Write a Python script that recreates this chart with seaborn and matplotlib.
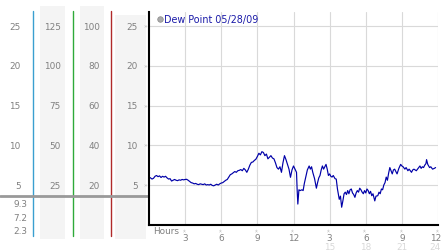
import numpy as np
import pandas as pd
import seaborn as sns
import matplotlib.pyplot as plt
from matplotlib.transforms import blended_transform_factory

# ---------------- data ----------------
hours = [0.0, 0.125, 0.25, 0.375, 0.5, 0.625, 0.75, 0.875, 1.0, 1.125, 1.25, 1.375,
         1.5, 1.625, 1.75, 1.875, 2.0, 2.125, 2.25, 2.375, 2.5, 2.625, 2.75, 2.875,
         3.0, 3.125, 3.25, 3.375, 3.5, 3.625, 3.75, 3.875, 4.0, 4.125, 4.25, 4.375,
         4.5, 4.625, 4.75, 4.875, 5.0, 5.125, 5.25, 5.375, 5.5, 5.625, 5.75, 5.875,
         6.0, 6.125, 6.25, 6.375, 6.5, 6.625, 6.75, 6.875, 7.0, 7.125, 7.25, 7.375,
         7.5, 7.625, 7.75, 7.875, 8.0, 8.125, 8.25, 8.375, 8.5, 8.625, 8.75, 8.875,
         9.0, 9.125, 9.25, 9.375, 9.5, 9.625, 9.75, 9.875, 10.0, 10.125, 10.25, 10.375,
         10.5, 10.625, 10.75, 10.875, 11.0, 11.125, 11.25, 11.375, 11.5, 11.625, 11.75, 11.875,
         12.0, 12.125, 12.25, 12.3, 12.36, 12.45, 12.55, 12.7, 12.8, 12.9, 13.05, 13.15,
         13.3, 13.4, 13.5, 13.6, 13.75, 13.9, 14.0, 14.1, 14.2, 14.3, 14.4, 14.5,
         14.6, 14.7, 14.8, 14.9, 15.0, 15.1, 15.2, 15.3, 15.45, 15.55, 15.65, 15.8,
         15.9, 16.0, 16.1, 16.2, 16.3, 16.4, 16.5, 16.6, 16.7, 16.8, 16.9, 17.0,
         17.1, 17.2, 17.3, 17.4, 17.5, 17.6, 17.7, 17.8, 17.9, 18.0, 18.1, 18.2,
         18.3, 18.4, 18.5, 18.6, 18.75, 18.85, 19.0, 19.1, 19.2, 19.3, 19.4, 19.5,
         19.6, 19.7, 19.8, 19.9, 20.0, 20.1, 20.2, 20.3, 20.4, 20.5, 20.6, 20.75,
         20.9, 21.0, 21.1, 21.25, 21.35, 21.5, 21.6, 21.7, 21.8, 21.9, 22.0, 22.1,
         22.2, 22.3, 22.4, 22.5, 22.6, 22.7, 22.8, 22.9, 23.0, 23.05, 23.15, 23.3,
         23.4, 23.55, 23.7, 23.8]
dew_point = [6.0, 5.9, 5.75, 5.85, 6.1, 6.2, 6.05, 6.15, 5.95, 6.1, 6.0, 6.1,
             5.9, 5.75, 5.8, 5.5, 5.6, 5.7, 5.6, 5.55, 5.65, 5.6, 5.7, 5.65,
             5.7, 5.72, 5.6, 5.45, 5.3, 5.25, 5.15, 5.2, 5.1, 5.05, 5.15, 5.1,
             5.05, 5.15, 5.0, 5.05, 5.0, 5.1, 4.95, 4.9, 5.0, 5.1, 5.0, 5.15,
             5.25, 5.3, 5.45, 5.6, 5.7, 6.0, 6.3, 6.4, 6.55, 6.7, 6.6, 6.8,
             6.85, 6.95, 6.8, 7.1, 6.9, 6.6, 7.0, 7.5, 7.85, 7.9, 8.1, 8.25,
             8.6, 9.0, 8.8, 9.2, 9.1, 8.7, 8.9, 8.3, 8.5, 8.7, 8.4, 8.3,
             7.8, 7.2, 7.0, 7.3, 6.6, 7.8, 8.7, 8.2, 7.6, 7.0, 5.97, 6.9,
             7.4, 7.0, 6.6, 4.5, 2.6, 4.4, 4.3, 4.4, 4.3, 5.2, 6.2, 6.9,
             7.4, 7.0, 7.3, 6.6, 5.8, 4.6, 5.3, 5.9, 6.2, 6.9, 7.4, 7.0,
             7.3, 7.6, 7.0, 6.2, 6.4, 6.1, 6.0, 6.2, 5.8, 5.75, 4.5, 3.2,
             3.6, 2.2, 3.0, 3.9, 4.1, 3.8, 4.3, 3.9, 4.4, 4.5, 4.0, 3.8,
             3.45, 4.0, 4.3, 4.1, 4.6, 4.4, 4.1, 3.9, 4.3, 4.0, 4.5, 4.3,
             3.9, 4.2, 3.65, 3.9, 3.0, 3.6, 3.65, 4.1, 3.9, 4.5, 4.4, 5.0,
             5.3, 6.0, 5.6, 6.5, 7.2, 6.8, 6.4, 6.9, 7.0, 6.7, 6.4, 7.1,
             7.6, 7.4, 7.3, 7.0, 7.2, 6.8, 7.0, 6.8, 6.6, 6.9, 7.0, 6.9,
             6.8, 7.0, 7.2, 7.4, 7.1, 7.3, 7.2, 7.5, 7.7, 8.2, 7.6, 7.2,
             7.3, 7.0, 7.1, 7.2]
series_label = "Dew Point 05/28/09"

x_ticks = [3, 6, 9, 12, 15, 18, 21, 24]
x_tick_labels = ["3", "6", "9", "12", "3", "6", "9", "12"]
x_second_row = {15: "15", 18: "18", 21: "21", 24: "24"}
y_ticks = [5, 10, 15, 20, 25]
col1_labels = ["5", "10", "15", "20", "25"]
col2_labels = ["25", "50", "75", "100", "125"]
col3_labels = ["20", "40", "60", "80", "100"]
col4_labels = ["5", "10", "15", "20", "25"]
col1_extra = ["9.3", "7.2", "2.3"]

df = pd.DataFrame({"hour": hours, "dew": dew_point})

# ---------------- figure ----------------
sns.set_style("white")
plt.rcParams['font.family'] = ['DejaVu Sans']
W, H = 442, 253
fig = plt.figure(figsize=(W / 100, H / 100), dpi=100)

ov = fig.add_axes([0, 0, 1, 1], zorder=0)
ov.set_xlim(0, W)
ov.set_ylim(H, 0)
ov.axis("off")

y0_px, ytop_px = 225.7, 13.0
ax = fig.add_axes([149 / W, (H - y0_px) / H, 289 / W, (y0_px - ytop_px) / H], zorder=1)
ymax = 26.8
ax.set_xlim(0, 24)
ax.set_ylim(0, ymax)

sns.lineplot(data=df, x="hour", y="dew", ax=ax, color="#0000a8", linewidth=0.85, legend=False)

ax.set_xticks(x_ticks)
ax.set_yticks(y_ticks)
ax.grid(True, color="#d9d9d9", linewidth=0.8)
ax.set_axisbelow(True)
ax.tick_params(length=0, labelbottom=False, labelleft=False)
ax.set_xlabel("")
ax.set_ylabel("")
for s in ["top", "right"]:
    ax.spines[s].set_visible(False)
ax.spines["left"].set_color("black")
ax.spines["left"].set_linewidth(1.5)
ax.spines["bottom"].set_color("black")
ax.spines["bottom"].set_linewidth(1.5)

# legend-like title
ax.plot([0.038], [0.967], marker="o", markersize=4, color="#aaaaaa",
        markeredgecolor="#888888", markeredgewidth=0.5, transform=ax.transAxes, clip_on=False)
ax.text(0.051, 0.967, series_label, transform=ax.transAxes, color="#1a1aa8",
        fontsize=6.9, va="center", ha="left")

# ---------------- left panel ----------------
tr = blended_transform_factory(ov.transData, ax.transData)
gray_bg = "#f4f4f4"
for x0, x1, ytop in [(40, 65, 7), (80, 104, 7), (115, 146, 16)]:
    ov.fill_between([x0, x1], [ytop, ytop], [240, 240], color=gray_bg, lw=0)

for xv, col in [(33, "#3a9fd0"), (72.7, "#2faa3a"), (111.3, "#b02a2a")]:
    ov.plot([xv, xv], [12, 237], color=col, lw=1.0)

ov.plot([0, 149], [196.7, 196.7], color="#999999", lw=2)

txt_col = "#808080"
fs = 6.4
for yv, l1, l2, l3, l4 in zip(y_ticks, col1_labels, col2_labels, col3_labels, col4_labels):
    ov.text(20.5, yv, l1, transform=tr, ha="right", va="center", fontsize=fs, color=txt_col)
    ov.text(60.5, yv, l2, transform=tr, ha="right", va="center", fontsize=fs, color=txt_col)
    ov.text(99.5, yv, l3, transform=tr, ha="right", va="center", fontsize=fs, color=txt_col)
    ov.text(137.5, yv, l4, transform=tr, ha="right", va="center", fontsize=fs, color=txt_col)
    ov.text(145.5, yv, "»", transform=tr, ha="center", va="center", fontsize=4.5, color="#b0b0b0")

for yp, lab in zip([205, 219, 232], col1_extra):
    ov.text(27.5, yp, lab, ha="right", va="center", fontsize=fs, color=txt_col)

# ---------------- bottom labels ----------------
trx = blended_transform_factory(ax.transData, ov.transData)
ov.text(153, 231.5, "Hours", ha="left", va="center", fontsize=fs, color=txt_col)
for xv, lab in zip(x_ticks, x_tick_labels):
    ov.text(xv, 230, "»", transform=trx, ha="center", va="center", fontsize=4.5,
            color="#b0b0b0", rotation=90)
    if xv == x_ticks[-1]:
        ov.text(441, 238.5, lab, ha="right", va="center", fontsize=fs, color=txt_col)
    else:
        ov.text(xv, 238.5, lab, transform=trx, ha="center", va="center", fontsize=fs, color=txt_col)
for xv, lab in x_second_row.items():
    if xv == x_ticks[-1]:
        ov.text(441, 247.5, lab, ha="right", va="center", fontsize=fs, color="#d8d8d8")
    else:
        ov.text(xv, 247.5, lab, transform=trx, ha="center", va="center", fontsize=fs, color="#d8d8d8")

fig.savefig("out.png", dpi=100)
